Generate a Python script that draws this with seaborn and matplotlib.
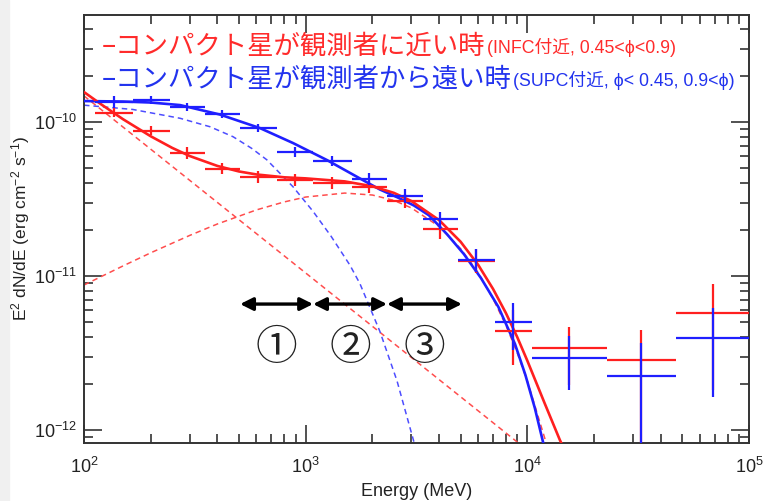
import matplotlib
matplotlib.use("Agg")
import matplotlib.pyplot as plt
from matplotlib import ticker
from matplotlib.patches import Rectangle
import numpy as np
import pandas as pd
import seaborn as sns

# ---------------- data ----------------
# energy bins (MeV)
bin_center = [136, 200, 293, 419, 609, 895, 1315, 1932, 2805, 4036, 5862, 8610, 15420, 32500, 68700]
bin_lo = [112, 166, 244, 351, 506, 743, 1080, 1618, 2328, 3380, 4864, 7145, 10490, 22860, 46750]
bin_hi = [166, 244, 351, 506, 743, 1080, 1618, 2328, 3380, 4864, 7145, 10490, 22860, 46750, 100000]

# INFC (red) SED points
red_flux = [1.153e-10, 0.881e-10, 0.629e-10, 0.498e-10, 0.440e-10, 0.420e-10, 0.402e-10, 0.379e-10,
            0.308e-10, 0.202e-10, 0.125e-10, 4.40e-12, 3.41e-12, 2.85e-12, 5.75e-12]
red_up = [1.233e-10, 0.942e-10, 0.689e-10, 0.542e-10, 0.481e-10, 0.459e-10, 0.443e-10, 0.414e-10,
          0.340e-10, 0.234e-10, 0.150e-10, 6.0e-12, 4.67e-12, 4.46e-12, 8.87e-12]
red_dn = [1.077e-10, 0.823e-10, 0.575e-10, 0.459e-10, 0.402e-10, 0.384e-10, 0.365e-10, 0.346e-10,
          0.277e-10, 0.174e-10, 0.104e-10, 2.64e-12, 1.96e-12, 5e-13, 1.82e-12]

# SUPC (blue) SED points
blue_flux = [1.349e-10, 1.390e-10, 1.251e-10, 1.127e-10, 0.914e-10, 0.639e-10, 0.558e-10, 0.427e-10,
             0.331e-10, 0.234e-10, 0.127e-10, 5.02e-12, 2.94e-12, 2.25e-12, 3.95e-12]
blue_up = [1.475e-10, 1.475e-10, 1.327e-10, 1.196e-10, 0.971e-10, 0.689e-10, 0.601e-10, 0.466e-10,
           0.367e-10, 0.262e-10, 0.150e-10, 6.68e-12, 4.07e-12, 3.67e-12, 6.19e-12]
blue_dn = [1.233e-10, 1.309e-10, 1.178e-10, 1.062e-10, 0.861e-10, 0.593e-10, 0.518e-10, 0.390e-10,
           0.298e-10, 0.203e-10, 0.106e-10, 3.30e-12, 1.82e-12, 5e-13, 1.64e-12]

# model curves
red_fit_E = [100, 120, 150, 200, 250, 300, 400, 500, 600, 800, 1000, 1500, 2000, 2500, 3000, 4000,
             5000, 6000, 7000, 8000, 9000, 10000, 12000, 14000, 15000]
red_fit_F = [1.567e-10, 1.299e-10, 1.044e-10, 8.09e-11, 6.80e-11, 6.02e-11, 5.19e-11, 4.78e-11, 4.57e-11,
             4.38e-11, 4.31e-11, 4.12e-11, 3.83e-11, 3.47e-11, 3.07e-11, 2.31e-11, 1.671e-11, 1.183e-11,
             8.26e-12, 5.76e-12, 4.02e-12, 2.82e-12, 1.48e-12, 8.66e-13, 6.97e-13]

red_pl_E = [100, 10000]
red_pl_F = [1.48e-10, 7.41e-13]

red_hump_E = [100, 150, 200, 300, 400, 600, 800, 1000, 1500, 2000, 2500, 3000, 4000, 5000, 6000, 7000,
              8000, 9000, 10000, 12000, 14000]
red_hump_F = [8.75e-12, 1.164e-11, 1.416e-11, 1.837e-11, 2.18e-11, 2.69e-11, 3.03e-11, 3.26e-11, 3.46e-11,
              3.36e-11, 3.10e-11, 2.77e-11, 2.10e-11, 1.507e-11, 1.050e-11, 7.14e-12, 4.80e-12, 3.18e-12,
              2.08e-12, 8.8e-13, 3.63e-13]

blue_fit_E = [100, 150, 200, 271, 410, 622, 877, 1247, 1812, 2162, 2600, 3083, 3600, 4335, 5172, 6180,
              7400, 8790, 9800, 10810, 11750, 12590]
blue_fit_F = [1.37e-10, 1.36e-10, 1.34e-10, 1.29e-10, 1.12e-10, 0.914e-10, 0.731e-10, 0.567e-10, 4.20e-11,
              3.65e-11, 3.24e-11, 2.87e-11, 2.48e-11, 1.875e-11, 1.39e-11, 9.70e-12, 6.31e-12, 3.63e-12,
              2.28e-12, 1.39e-12, 8.45e-13, 5.37e-13]

blue_dash_E = [100, 166, 271, 370, 470, 570, 668, 877, 1080, 1300, 1585, 1758, 2162, 2582, 3110, 3400]
blue_dash_F = [1.288e-10, 1.208e-10, 1.059e-10, 9.33e-11, 8.04e-11, 6.76e-11, 5.69e-11, 3.80e-11, 2.63e-11,
               1.82e-11, 1.175e-11, 8.91e-12, 4.37e-12, 2.09e-12, 7.94e-13, 4.68e-13]

# energy ranges (arrows) and their labels
range_edges = [506, 1080, 2328, 5070]
range_labels = ["①", "②", "③"]
arrow_level = 6.58e-12
label_level = 3.40e-12

# axis ticks
x_ticks = [1e2, 1e3, 1e4, 1e5]
y_ticks = [1e-12, 1e-11, 1e-10]

legend_red = "–コンパクト星が観測者に近い時"
legend_red_small = "(INFC付近, 0.45<ϕ<0.9)"
legend_blue = "–コンパクト星が観測者から遠い時"
legend_blue_small = "(SUPC付近, ϕ< 0.45, 0.9<ϕ)"

x_label = "Energy (MeV)"
y_label = r"E$^2$ dN/dE (erg cm$^{-2}$ s$^{-1}$)"

# ---------------- style ----------------
sns.set_theme(style="ticks")
plt.rcParams["font.family"] = ["Liberation Sans", "Noto Sans CJK JP", "DejaVu Sans"]
plt.rcParams["mathtext.fontset"] = "custom"
plt.rcParams["mathtext.rm"] = "Liberation Sans"
plt.rcParams["mathtext.it"] = "Liberation Sans:italic"
plt.rcParams["mathtext.bf"] = "Liberation Sans:bold"

RED = "#ff1f1f"
BLUE = "#1f1fff"
RED_D = "#ff4d4d"
BLUE_D = "#4d4dff"
AXC = "#333333"

W, H = 766, 501
fig = plt.figure(figsize=(W / 100, H / 100), dpi=100)
fig.patch.set_facecolor("white")
fig.patches.append(Rectangle((0, 0), 9 / W, 1, transform=fig.transFigure, color="#f0f0f0", zorder=-5))

L, R, T, B = 84, 749, 15, 443
ax = fig.add_axes([L / W, 1 - B / H, (R - L) / W, (B - T) / H])
ax.set_xscale("log")
ax.set_yscale("log")

# model components
dash = (0, (3.6, 2.6))
sns.lineplot(x=red_pl_E, y=red_pl_F, ax=ax, color=RED_D, linewidth=1.1, linestyle=dash, zorder=2)
sns.lineplot(x=red_hump_E, y=red_hump_F, ax=ax, color=RED_D, linewidth=1.1, linestyle=dash, zorder=2)
sns.lineplot(x=blue_dash_E, y=blue_dash_F, ax=ax, color=BLUE_D, linewidth=1.1, linestyle=dash, zorder=2)
sns.lineplot(x=blue_fit_E, y=blue_fit_F, ax=ax, color=BLUE, linewidth=1.9, zorder=3)
sns.lineplot(x=red_fit_E, y=red_fit_F, ax=ax, color=RED, linewidth=1.9, zorder=3)

# data points
def cross(flux, up, dn, color, z):
    x = np.array(bin_center, float)
    y = np.array(flux, float)
    xerr = [x - np.array(bin_lo), np.array(bin_hi) - x]
    yerr = [y - np.array(dn), np.array(up) - y]
    ax.errorbar(x, y, xerr=xerr, yerr=yerr, fmt="none", ecolor=color, elinewidth=1.6, capsize=0, zorder=z)

cross(red_flux, red_up, red_dn, RED, 4)
cross(blue_flux, blue_up, blue_dn, BLUE, 5)

# arrows and circled numbers
for i in range(3):
    ax.annotate("", xy=(range_edges[i + 1], arrow_level), xytext=(range_edges[i], arrow_level),
                arrowprops=dict(arrowstyle="<|-|>", color="black", lw=2.4, mutation_scale=19,
                                shrinkA=0, shrinkB=0), zorder=6)
    xm = np.sqrt(range_edges[i] * range_edges[i + 1])
    ax.text(xm, label_level, range_labels[i], ha="center", va="center", fontsize=30,
            family=["Noto Sans CJK JP", "DejaVu Sans"], color="#222222", zorder=6)

# axes
ax.set_xlim(100, 1e5)
ax.set_ylim(8.24e-13, 4.96e-10)
ax.xaxis.set_major_locator(ticker.FixedLocator(x_ticks))
ax.yaxis.set_major_locator(ticker.FixedLocator(y_ticks))
ax.xaxis.set_major_formatter(ticker.LogFormatterSciNotation())
ax.yaxis.set_major_formatter(ticker.LogFormatterSciNotation())
ax.xaxis.set_minor_locator(ticker.LogLocator(base=10, subs=np.arange(2, 10), numticks=20))
ax.yaxis.set_minor_locator(ticker.LogLocator(base=10, subs=np.arange(2, 10), numticks=20))
ax.xaxis.set_minor_formatter(ticker.NullFormatter())
ax.yaxis.set_minor_formatter(ticker.NullFormatter())
for s in ax.spines.values():
    s.set_color(AXC)
    s.set_linewidth(1.4)
ax.tick_params(which="both", direction="in", top=True, right=True, color=AXC, width=1.2)
ax.tick_params(which="major", length=13, labelsize=13, labelcolor="#222222")
ax.tick_params(which="minor", length=6.5)
ax.tick_params(axis="x", which="major", pad=10)
ax.tick_params(axis="y", which="major", pad=5)
ax.set_xlabel(x_label, fontsize=13, color="#222222", labelpad=4)
ax.set_ylabel(y_label, fontsize=12.5, color="#222222")
ax.yaxis.set_label_coords(-0.078, 0.5)
ax.grid(False)

# legend texts
cjk = ["Noto Sans CJK JP", "DejaVu Sans"]
small_fam = ["Liberation Sans", "Noto Sans CJK JP", "DejaVu Sans"]
t1 = fig.text(102 / W, 1 - 46 / H, legend_red, fontsize=19, color="#ff2b2b", family=cjk,
              ha="left", va="center")
ax.annotate(legend_red_small, xy=(1, 0), xycoords=t1, xytext=(1, 2), textcoords="offset points",
            fontsize=12.8, color="#ff2b2b", family=small_fam, ha="left", va="bottom")
t2 = fig.text(102 / W, 1 - 79 / H, legend_blue, fontsize=19, color="#2233ee", family=cjk,
              ha="left", va="center")
ax.annotate(legend_blue_small, xy=(1, 0), xycoords=t2, xytext=(1, 2), textcoords="offset points",
            fontsize=12.8, color="#2233ee", family=small_fam, ha="left", va="bottom")

fig.savefig("out.png", dpi=100)
